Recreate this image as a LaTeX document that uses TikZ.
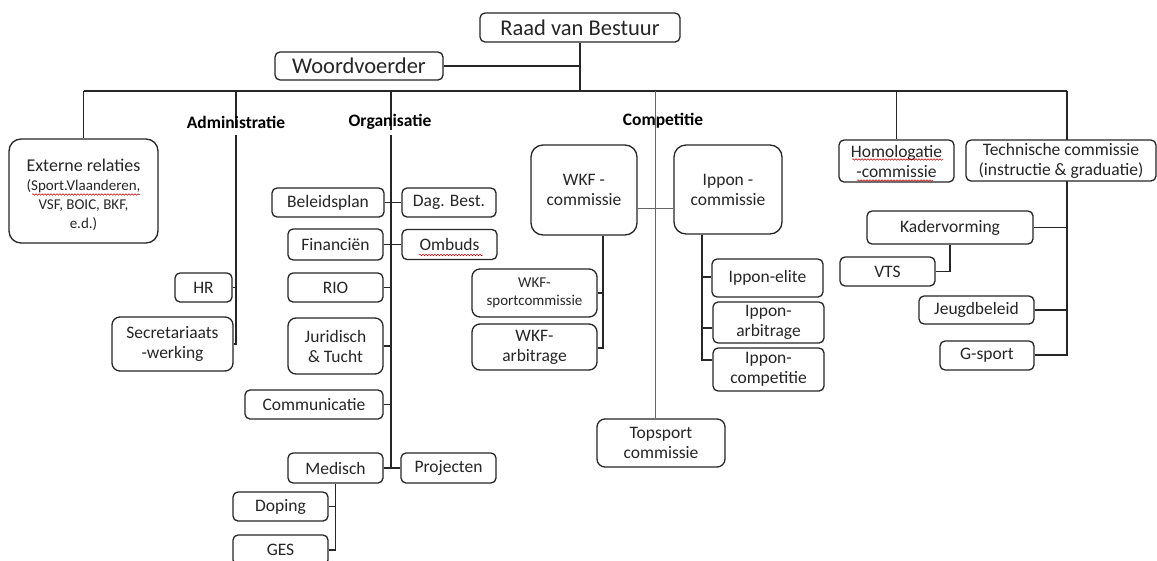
\documentclass[tikz,border=0pt]{standalone}
\usepackage{fontspec}
\setmainfont{Carlito}
\usetikzlibrary{backgrounds,decorations.pathmorphing}
\begin{document}
\begin{tikzpicture}[x=1pt,y=-1pt,
  box/.style={draw=black!85, line width=1.3pt, rounded corners=5pt, fill=white, inner sep=1pt,
    align=center, font=\fontsize{17.5}{20}\selectfont, text=black!85},
  big/.style={box, rounded corners=12pt},
  mid/.style={box, rounded corners=8pt},
  conn/.style={line width=1.4pt, draw=black!85},
  thinline/.style={line width=0.8pt, draw=black!60},
  grp/.style={font=\bfseries\fontsize{17.5}{20}\selectfont, inner sep=0pt, text=black},
  spell/.style={draw=red!75!black, line width=0.5pt, decorate,
    decoration={snake, amplitude=0.8pt, segment length=3pt}}]
\useasboundingbox (0,0) rectangle (1157,560);

% top
\node[box, font=\fontsize{22.5}{26}\selectfont, minimum width=200pt, minimum height=29pt] (rvb) at (580,27.5) {Raad van Bestuur};
\node[box, font=\fontsize{22.5}{26}\selectfont, minimum width=168pt, minimum height=28pt] (wv) at (359,66) {Woordvoerder};

% group labels
\node[grp] (adm) at (236,122) {Administratie};
\node[grp] (org) at (390,122) {Organisatie};
\node[grp] (comp) at (663,121) {Competitie};

% external
\node[big, minimum width=149pt, minimum height=104pt] (ext) at (83.5,191) {};
\node[align=center, inner sep=0pt, text=black!85, font=\fontsize{15}{19}\selectfont] (extt) at (83.5,194.5)
  {{\fontsize{18}{19}\selectfont Externe relaties}\\(Sport.Vlaanderen,\\VSF, BOIC, BKF,\\e.d.)};

% administratie
\node[box, minimum width=57pt, minimum height=29pt] (hr) at (203.5,287.5) {HR};
\node[mid, minimum width=121pt, minimum height=54pt] (sec) at (172.5,344) {Secretariaats\\-werking};

% organisatie
\node[box, minimum width=112pt, minimum height=29pt] (bel) at (328,202.5) {Beleidsplan};
\node[box, minimum width=94pt, minimum height=29pt] (dag) at (449,202.5) {Dag. Best.};
\node[box, minimum width=95pt, minimum height=31pt] (fin) at (335.5,244.5) {Financiën};
\node[box, minimum width=95pt, minimum height=30pt] (omb) at (449.5,244.5) {Ombuds};
\node[box, minimum width=95pt, minimum height=29pt] (rio) at (335.5,287.5) {RIO};
\node[mid, minimum width=95pt, minimum height=56pt] (jur) at (335.5,346) {Juridisch\\\& Tucht};
\node[box, minimum width=138pt, minimum height=29pt] (com) at (314,404.5) {Communicatie};
\node[box, minimum width=95pt, minimum height=30pt] (med) at (335.5,468) {Medisch};
\node[box, minimum width=95pt, minimum height=30pt] (proj) at (448.5,468) {Projecten};
\node[box, minimum width=95pt, minimum height=29pt] (dop) at (280.5,506.5) {Doping};
\node[box, minimum width=95pt, minimum height=30pt] (ges) at (280.5,550) {GES};

% competitie
\node[big, minimum width=106pt, minimum height=90pt] (wkf) at (584,190) {WKF -\\commissie};
\node[big, minimum width=108pt, minimum height=89pt] (ippon) at (728,189.5) {Ippon -\\commissie};
\node[mid, font=\fontsize{15}{18}\selectfont, minimum width=125pt, minimum height=48pt] (wkfs) at (534.5,293) {WKF-\\sportcommissie};
\node[mid, minimum width=125pt, minimum height=46pt] (wkfa) at (534.5,347) {WKF-\\arbitrage};
\node[box, minimum width=111pt, minimum height=38pt] (ie) at (767.5,278) {Ippon-elite};
\node[box, minimum width=111pt, minimum height=41pt] (ia) at (768.5,322.5) {Ippon-\\arbitrage};
\node[box, minimum width=111pt, minimum height=43pt] (ic) at (768.5,369.5) {Ippon-\\competitie};
\node[mid, minimum width=128pt, minimum height=48pt] (top) at (661,443) {Topsport\\commissie};

% right side
\node[box, minimum width=115pt, minimum height=42pt] (hom) at (896.5,161) {Homologatie\\-commissie};
\node[box, minimum width=190pt, minimum height=41pt] (tech) at (1061,160.5) {Technische commissie\\(instructie \& graduatie)};
\node[box, minimum width=166pt, minimum height=33pt] (kad) at (950,227.5) {Kadervorming};
\node[box, minimum width=95pt, minimum height=29pt] (vts) at (887.5,271.5) {VTS};
\node[box, minimum width=115pt, minimum height=28pt] (jeugd) at (976.5,310) {Jeugdbeleid};
\node[box, minimum width=94pt, minimum height=29pt] (gsp) at (987,355.5) {G-sport};

% junction coordinates
\coordinate (busL) at (84,91);
\coordinate (busR) at (1067,91);
\coordinate (rvbJ) at (580,91);
\coordinate (admT) at (236,91);
\coordinate (admB2) at (236,135);
\coordinate (admB) at (236,345);
\coordinate (orgT) at (391,91);
\coordinate (orgB2) at (391,135);
\coordinate (orgB) at (391,468);
\coordinate (compT) at (655,91);
\coordinate (homT) at (897,91);
\coordinate (techB) at (1067,355);
\coordinate (wi) at (655,208);
\coordinate (wkfB) at (603,348);
\coordinate (wkfS) at (603,293);
\coordinate (ipB) at (702,360);
\coordinate (ipA) at (702,328);
\coordinate (ipE) at (702,277);

\begin{pgfonlayer}{background}
\fill[white] (0,0) rectangle (1157,560);
\draw[conn] (busL) -- (busR);
\draw[conn] (rvb.south) -- (rvbJ);
\draw[conn] (wv.east) -- (wv.east -| rvbJ);
\draw[conn] (ext.north |- busL) -- (ext.north);
% administratie
\draw[conn] (admT) -- (adm.south);
\draw[conn] (admB2) -- (admB);
\draw[conn] (hr.east) -- (hr.east -| admB);
\draw[conn] (sec.east) -- (sec.east -| admB);
% organisatie
\draw[conn] (orgT) -- (org.south -| orgT);
\draw[conn] (orgB2) -- (orgB);
\draw[conn] (bel.east) -- (dag.west);
\draw[conn] (fin.east) -- (omb.west);
\draw[conn] (rio.east) -- (rio.east -| orgB);
\draw[conn] (jur.east) -- (jur.east -| orgB);
\draw[conn] (com.east) -- (com.east -| orgB);
\draw[conn] (med.east) -- (proj.west);
\draw[conn] (med.south) |- (ges.east);
\draw[conn] (dop.east) -- (dop.east -| med.south);
% competitie
\draw[thinline] (compT) -- (compT |- top.north);
\draw[thinline] (wkf.east |- wi) -- (ippon.west |- wi);
\draw[conn] (wkf.south -| wkfB) -- (wkfB) -- (wkfa.east |- wkfB);
\draw[conn] (wkfS) -- (wkfs.east |- wkfS);
\draw[conn] (ippon.south -| ipB) -- (ipB) -- (ic.west |- ipB);
\draw[conn] (ipA) -- (ia.west |- ipA);
\draw[conn] (ipE) -- (ie.west |- ipE);
% right
\draw[conn] (hom.north |- homT) -- (hom.north);
\draw[conn] (busR) -- (techB) -- (gsp.east |- techB);
\draw[conn] (kad.east) -- (kad.east -| techB);
\draw[conn] (jeugd.east) -- (jeugd.east -| techB);
\draw[conn] (kad.south) |- (vts.east);
\end{pgfonlayer}

% spell-check underlines
\draw[spell] (32,194.5) -- (140,194.5);
\draw[spell] (852,159.5) -- (943,159.5);
\draw[spell] (857,180.5) -- (933,180.5);
\draw[spell] (419,255) -- (483,255);
\end{tikzpicture}
\end{document}
